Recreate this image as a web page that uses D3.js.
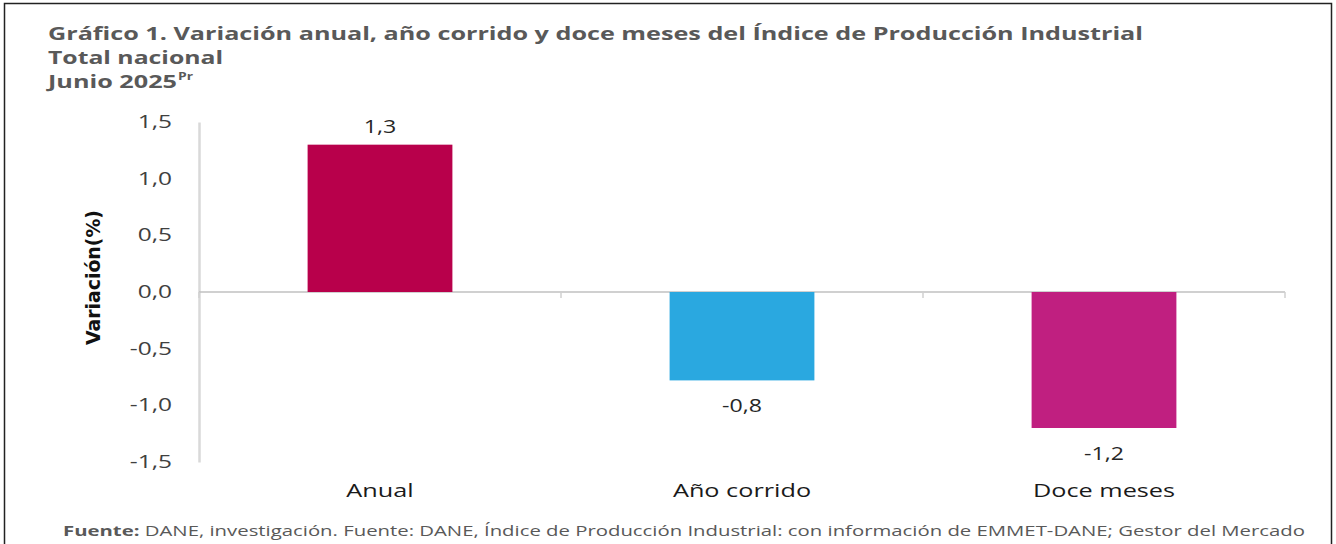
<!DOCTYPE html>
<html>
<head>
<meta charset="utf-8">
<script src="https://cdn.jsdelivr.net/npm/d3@7"></script>
<style>
  body { margin: 0; background: #fff; }
  svg { display: block; }
</style>
</head>
<body>
<svg id="chart"></svg>
<script>
// chart data
const categories = ["Anual", "Año corrido", "Doce meses"];
const values = [1.3, -0.78, -1.2];
const valueLabels = ["1,3", "-0,8", "-1,2"];
const barColors = ["#B8004B", "#2AA8E0", "#C01F80"];
const yTicks = [-1.5, -1.0, -0.5, 0, 0.5, 1.0, 1.5];
const titleLines = [
  "Gráfico 1. Variación anual, año corrido y doce meses del Índice de Producción Industrial",
  "Total nacional",
  "Junio 2025",
];
const titleWidths = [1095, 175, 129];

// canvas variables
const width = 1336;
const height = 544;
const plotLeft = 199;
const plotRight = 1285;
const plotTop = 122;
const plotBottom = 462;
const stretch = 1.33;
const font = "'Open Sans', 'Noto Sans', sans-serif";

const svg = d3.select("#chart").attr("width", width).attr("height", height);

// outer frame
svg
  .append("path")
  .attr("d", `M4.5,${height} V3.5 H1331.5 V${height}`)
  .attr("fill", "none")
  .attr("stroke", "#222")
  .attr("stroke-width", 1.5);

// scales
const xScale = d3
  .scaleBand()
  .domain(categories)
  .range([plotLeft, plotRight])
  .paddingInner(0.6)
  .paddingOuter(0.3);

const yScale = d3.scaleLinear().domain([-1.5, 1.5]).range([plotBottom, plotTop]);

// title
const title = svg
  .append("g")
  .style("font-family", font)
  .style("font-weight", "bold")
  .style("fill", "#595959")
  .style("font-size", "18px");

titleLines.forEach((t, i) => {
  title
    .append("text")
    .attr("x", 48)
    .attr("y", 40 + i * 24)
    .attr("textLength", titleWidths[i])
    .attr("lengthAdjust", "spacingAndGlyphs")
    .text(t);
});
title
  .append("text")
  .attr("x", 178)
  .attr("y", 80)
  .attr("textLength", 15)
  .attr("lengthAdjust", "spacingAndGlyphs")
  .style("font-size", "11px")
  .text("Pr");

// y-axis
const yAxis = svg
  .append("g")
  .attr("transform", `translate(${plotLeft}, 0)`)
  .call(
    d3
      .axisLeft(yScale)
      .tickValues(yTicks)
      .tickSize(0)
      .tickFormat((d) => d3.format(".1f")(d).replace(".", ",").replace("−", "-"))
  );

yAxis.select(".domain").attr("stroke", "#d9d9d9").attr("stroke-width", 2.5);
yAxis
  .selectAll("text")
  .attr("x", 0)
  .attr("transform", `translate(-27, 0) scale(1.4, 1)`)
  .style("font-family", font)
  .style("font-size", "17.5px")
  .style("fill", "#404040");

// y label
svg
  .append("text")
  .attr("transform", `translate(100, 278) rotate(-90)`)
  .attr("x", -67)
  .attr("textLength", 135)
  .attr("lengthAdjust", "spacingAndGlyphs")
  .style("font-family", "'Liberation Sans Narrow', 'DejaVu Sans Condensed', sans-serif")
  .style("font-weight", "bold")
  .style("font-size", "20px")
  .style("fill", "#111")
  .text("Variación(%)");

// x-axis at zero
const xAxisLine = svg.append("g");
xAxisLine
  .append("line")
  .attr("x1", plotLeft)
  .attr("x2", plotRight)
  .attr("y1", yScale(0))
  .attr("y2", yScale(0))
  .attr("stroke", "#c0c0c0")
  .attr("stroke-width", 1.5);

const step = (plotRight - plotLeft) / categories.length;
d3.range(categories.length + 1).forEach((i) => {
  xAxisLine
    .append("line")
    .attr("x1", plotLeft + i * step)
    .attr("x2", plotLeft + i * step)
    .attr("y1", yScale(0))
    .attr("y2", yScale(0) + 6)
    .attr("stroke", "#d0d0d0")
    .attr("stroke-width", 1.5);
});

// bars
svg
  .selectAll("rect.bar")
  .data(values)
  .enter()
  .append("rect")
  .attr("class", "bar")
  .attr("x", (d, i) => xScale(categories[i]))
  .attr("width", xScale.bandwidth())
  .attr("y", (d) => yScale(Math.max(0, d)))
  .attr("height", (d) => Math.abs(yScale(d) - yScale(0)))
  .attr("fill", (d, i) => barColors[i]);

// value labels
svg
  .selectAll("text.val")
  .data(values)
  .enter()
  .append("text")
  .attr("class", "val")
  .attr("transform", (d, i) => {
    const x = xScale(categories[i]) + xScale.bandwidth() / 2;
    const y = d >= 0 ? yScale(d) - 12 : yScale(d) + 32;
    return `translate(${x}, ${y}) scale(1.25, 1)`;
  })
  .style("text-anchor", "middle")
  .style("font-family", font)
  .style("font-size", "18.5px")
  .style("fill", "#262626")
  .text((d, i) => valueLabels[i]);

// category labels
svg
  .selectAll("text.cat")
  .data(categories)
  .enter()
  .append("text")
  .attr("class", "cat")
  .attr("transform", (d) => `translate(${xScale(d) + xScale.bandwidth() / 2}, 497) scale(${stretch}, 1)`)
  .style("text-anchor", "middle")
  .style("font-family", font)
  .style("font-size", "19px")
  .style("fill", "#1a1a1a")
  .text((d) => d);

// source note
const note = svg
  .append("text")
  .attr("x", 63)
  .attr("y", 536)
  .attr("textLength", 1242)
  .attr("lengthAdjust", "spacingAndGlyphs")
  .style("font-family", font)
  .style("font-size", "14.5px")
  .style("fill", "#595959");
note.append("tspan").style("font-weight", "bold").text("Fuente:");
note
  .append("tspan")
  .text(
    " DANE, investigación. Fuente: DANE, Índice de Producción Industrial: con información de EMMET-DANE; Gestor del Mercado"
  );
</script>
</body>
</html>
